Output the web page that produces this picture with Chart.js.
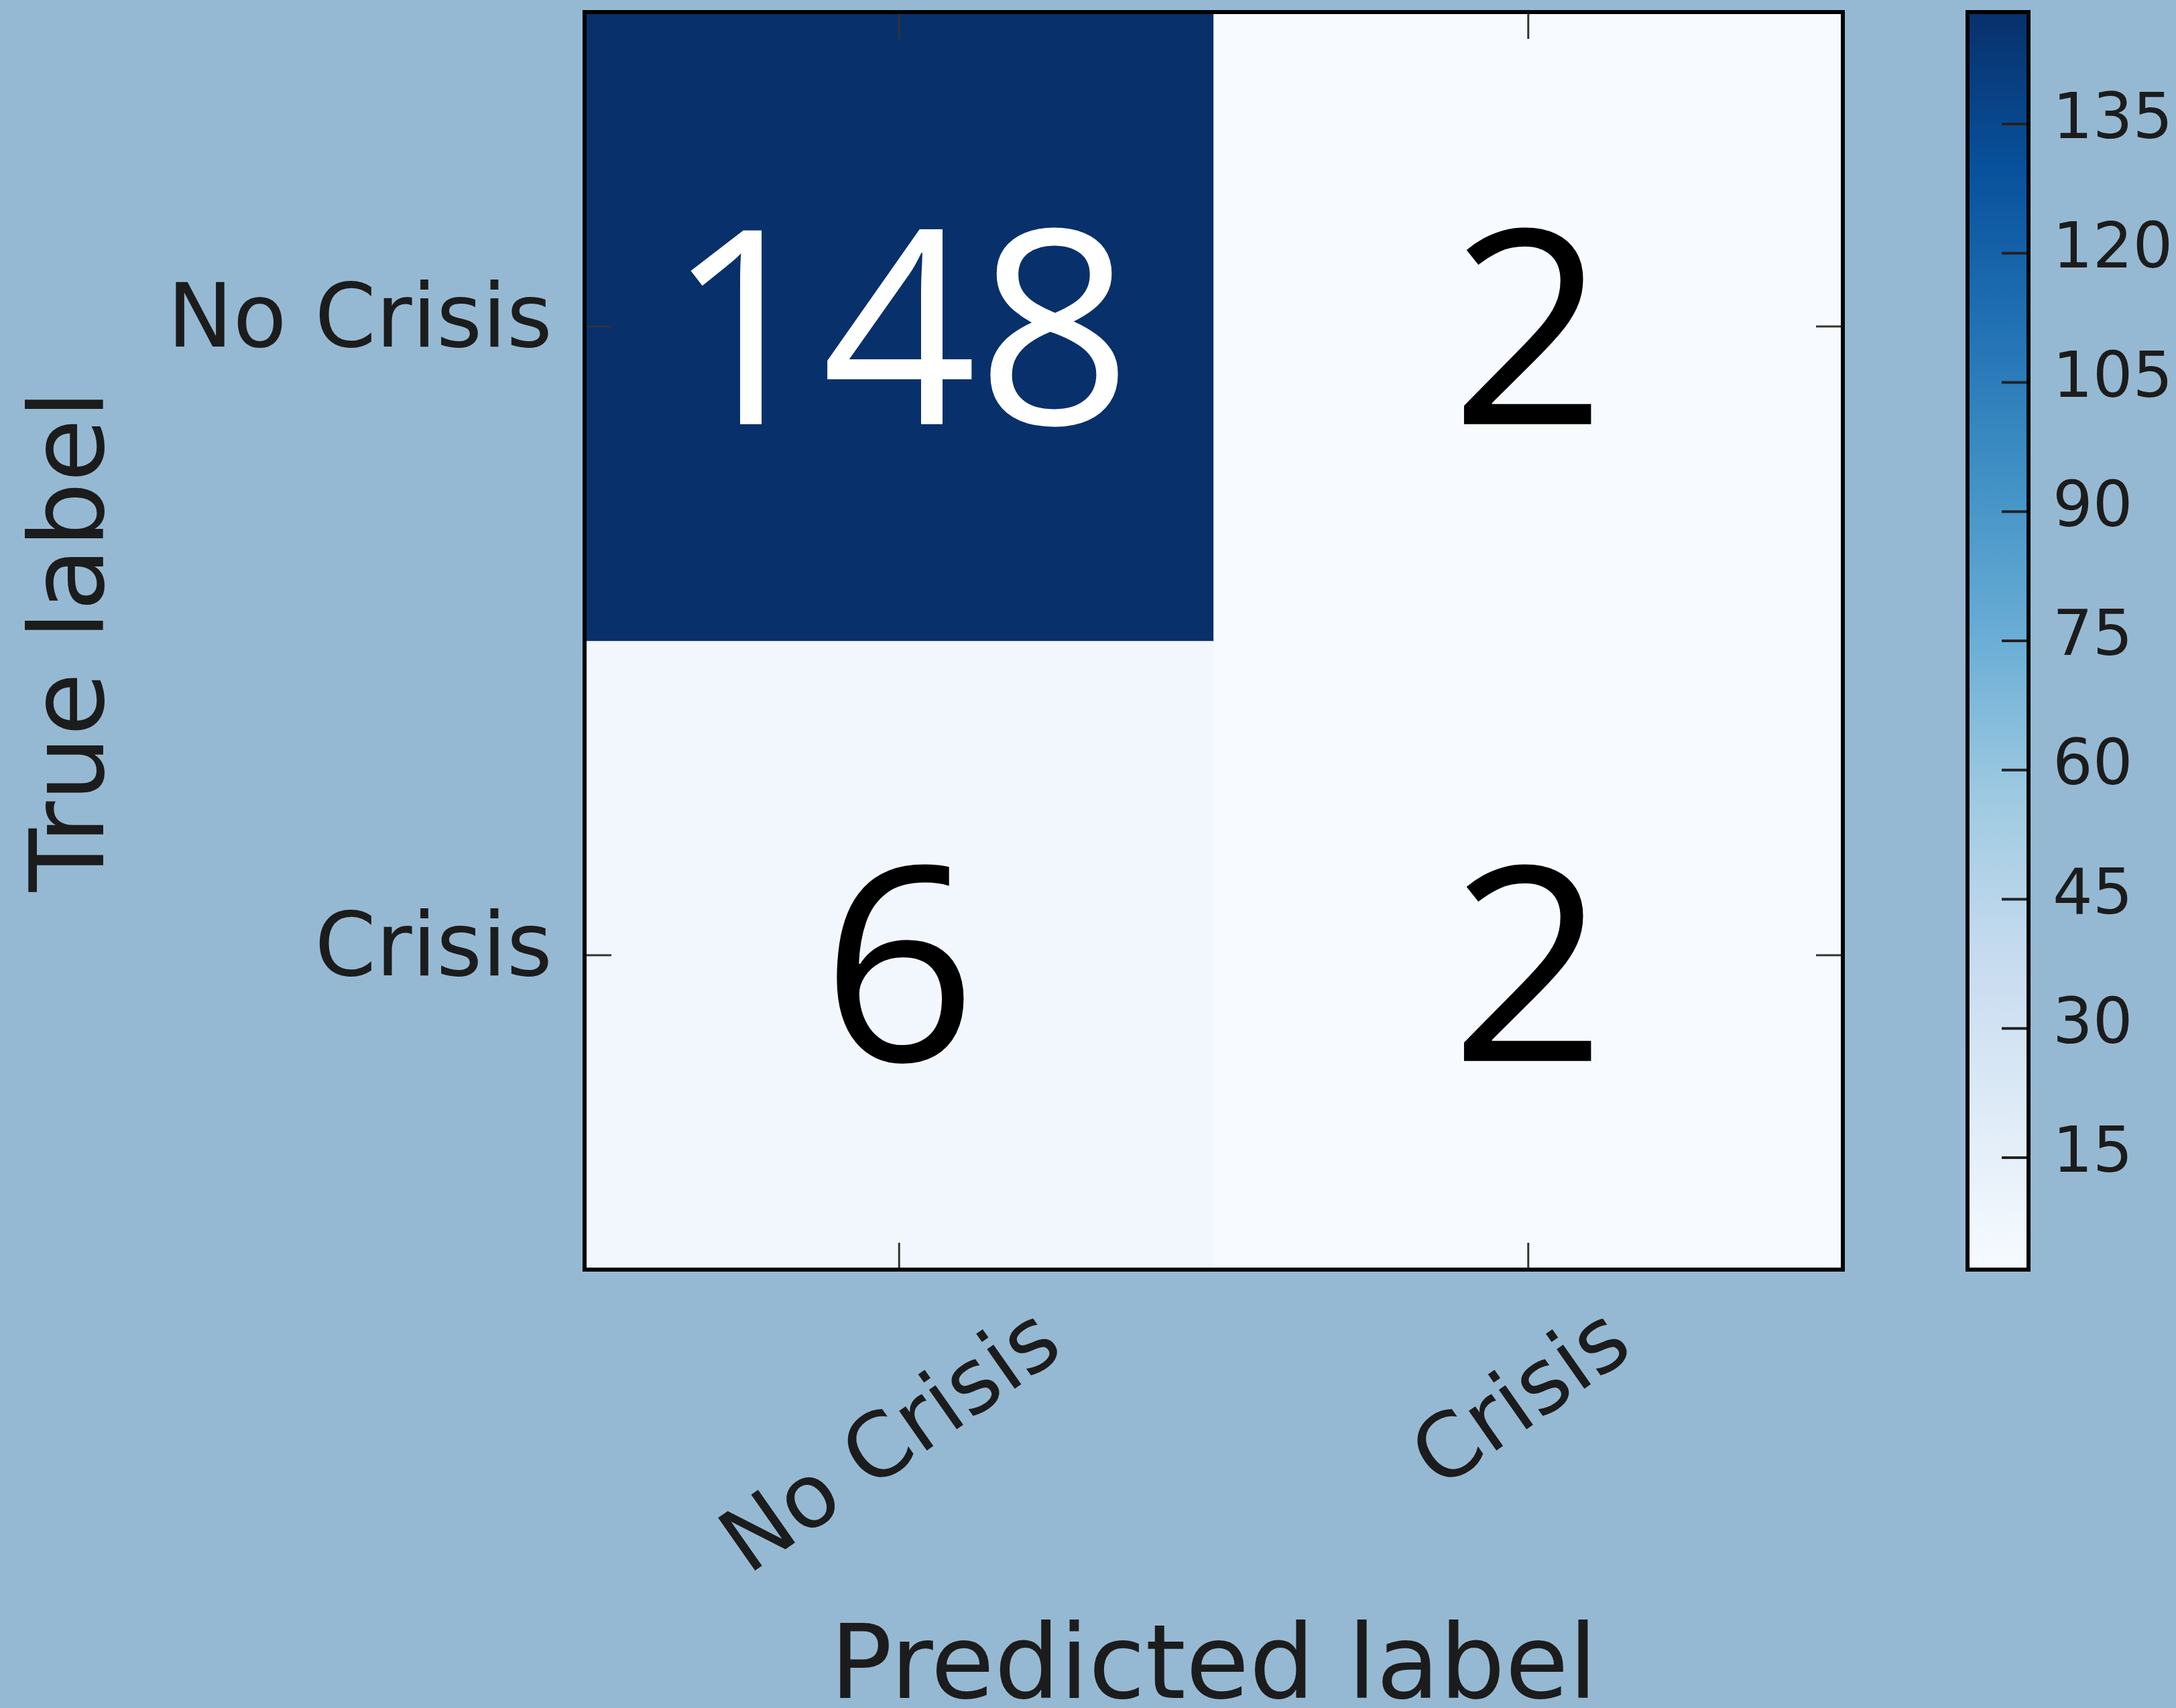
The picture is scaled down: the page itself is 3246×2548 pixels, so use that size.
<!DOCTYPE html>
<html>
<head>
<meta charset="utf-8">
<script src="https://cdn.jsdelivr.net/npm/chart.js@4.4.1/dist/chart.umd.min.js"></script>
<style>
html,body{margin:0;padding:0;background:#96b9d3;}
#wrap{position:relative;width:3246px;height:2548px;overflow:hidden;}
#wrap canvas{position:absolute;left:0;top:0;}
</style>
</head>
<body>
<div id="wrap">
<canvas id="cm" width="3246" height="2548" style="width:3246px;height:2548px"></canvas>
<canvas id="cb" width="3246" height="2548" style="width:3246px;height:2548px"></canvas>
</div>
<script>
// ---- data ----
const predictedLabels = ['No Crisis', 'Crisis'];
const trueLabels = ['No Crisis', 'Crisis'];
const rowNoCrisis = [148, 2];   // true = No Crisis
const rowCrisis = [6, 2];       // true = Crisis
const colorbarTicks = [15, 30, 45, 60, 75, 90, 105, 120, 135];
const colorMin = 2;
const colorMax = 148;
const blues = ['#f7fbff','#deebf7','#c6dbef','#9ecae1','#6baed6','#4292c6','#2171b5','#08519c','#08306b'];

const matrix = [rowNoCrisis, rowCrisis];
const TEXT = '#1c1c1c';
Chart.defaults.font.family = 'DejaVu Sans';

function hexToRgb(h){ return [parseInt(h.slice(1,3),16), parseInt(h.slice(3,5),16), parseInt(h.slice(5,7),16)]; }
function blueColor(v){
  let t = (v - colorMin) / (colorMax - colorMin);
  t = Math.max(0, Math.min(1, t));
  const f = t * (blues.length - 1);
  const i = Math.min(blues.length - 2, Math.floor(f));
  const u = f - i;
  const a = hexToRgb(blues[i]), b = hexToRgb(blues[i+1]);
  const c = a.map((x, k) => Math.round(x + (b[k] - x) * u));
  return 'rgb(' + c.join(',') + ')';
}
function line(ctx, x1, y1, x2, y2){ ctx.beginPath(); ctx.moveTo(x1, y1); ctx.lineTo(x2, y2); ctx.stroke(); }
function noPad(s){ s.paddingTop = 0; s.paddingBottom = 0; s.paddingLeft = 0; s.paddingRight = 0; }

// ---- confusion matrix ----
const cmPlugin = {
  id: 'cmDecor',
  afterDatasetsDraw(chart){
    const {ctx, scales: {x, y}, chartArea: a} = chart;
    ctx.save();
    // cell numbers
    const fs = 405;
    ctx.font = fs + 'px "Open Sans"';
    ctx.textAlign = 'center';
    ctx.textBaseline = 'alphabetic';
    const thresh = colorMax / 2;
    matrix.forEach((row, r) => row.forEach((v, c) => {
      ctx.fillStyle = v > thresh ? '#ffffff' : '#000000';
      ctx.fillText(String(v), x.getPixelForValue(c), y.getPixelForValue(r) + 0.36 * fs + r * 12);
    }));
    // inner ticks
    ctx.strokeStyle = '#333333';
    ctx.lineWidth = 3;
    const tl = 40;
    predictedLabels.forEach((_, c) => {
      const px = x.getPixelForValue(c);
      line(ctx, px, a.bottom, px, a.bottom - tl);
      line(ctx, px, a.top, px, a.top + tl);
    });
    trueLabels.forEach((_, r) => {
      const py = y.getPixelForValue(r);
      line(ctx, a.left, py, a.left + tl, py);
      line(ctx, a.right, py, a.right - tl, py);
    });
    // frame
    ctx.strokeStyle = '#000000';
    ctx.lineWidth = 6;
    ctx.strokeRect(a.left, a.top, a.right - a.left, a.bottom - a.top);
    // rotated x tick labels (centered, top aligned)
    ctx.font = '132px "DejaVu Sans"';
    ctx.fillStyle = TEXT;
    ctx.textAlign = 'left';
    ctx.textBaseline = 'alphabetic';
    const th = 35 * Math.PI / 180, cs = Math.cos(th), sn = Math.sin(th);
    predictedLabels.forEach((lab, i) => {
      const m = ctx.measureText(lab);
      const L = m.actualBoundingBoxLeft, R = m.actualBoundingBoxRight;
      const A = m.actualBoundingBoxAscent, D = m.actualBoundingBoxDescent;
      const pts = [[-L,-A],[R,-A],[R,D],[-L,D]].map(([px,py]) => [px*cs + py*sn, -px*sn + py*cs]);
      const xs = pts.map(p => p[0]), ys = pts.map(p => p[1]);
      const minX = Math.min(...xs), maxX = Math.max(...xs), minY = Math.min(...ys);
      const cx = x.getPixelForValue(i) - 14;
      const top = a.bottom + 46;
      ctx.save();
      ctx.translate(cx - (minX + maxX) / 2, top - minY);
      ctx.rotate(-th);
      ctx.fillText(lab, 0, 0);
      ctx.restore();
    });
    ctx.restore();
  }
};

new Chart(document.getElementById('cm'), {
  type: 'bar',
  data: {
    labels: predictedLabels,
    datasets: matrix.map((row, r) => ({
      label: trueLabels[r],
      data: row.map(() => [r - 0.5, r + 0.5]),
      backgroundColor: row.map(v => blueColor(v)),
      borderWidth: 0,
      grouped: false,
      barPercentage: 1,
      categoryPercentage: 1
    }))
  },
  options: {
    responsive: false,
    animation: false,
    events: [],
    layout: {padding: {top: 18, right: 497, bottom: 0, left: 0}},
    plugins: {legend: {display: false}, tooltip: {enabled: false}},
    scales: {
      x: {
        type: 'category',
        offset: true,
        grid: {display: false, drawTicks: false},
        border: {display: false},
        ticks: {display: false},
        title: {display: true, text: 'Predicted label', color: TEXT,
                font: {family: 'DejaVu Sans', size: 154, lineHeight: 0.6},
                padding: {top: 0, bottom: 9}},
        afterFit(s){ s.height = 654; noPad(s); }
      },
      y: {
        type: 'linear',
        min: -0.5,
        max: 1.5,
        reverse: true,
        grid: {display: false, drawTicks: false},
        border: {display: false},
        afterBuildTicks(s){ s.ticks = trueLabels.map((_, i) => ({value: i})); },
        ticks: {
          autoSkip: false,
          callback: (v) => trueLabels[v],
          color: TEXT,
          font: {family: 'DejaVu Sans', size: 131},
          padding: 48,
          labelOffset: -4
        },
        title: {display: true, text: 'True label', color: TEXT,
                font: {family: 'DejaVu Sans', size: 154, lineHeight: 1.2},
                padding: {top: 22, bottom: 0}},
        afterFit(s){ s.width = 872; noPad(s); }
      }
    }
  },
  plugins: [cmPlugin]
});

// ---- colorbar ----
const cbPlugin = {
  id: 'cbDecor',
  afterDatasetsDraw(chart){
    const {ctx, scales: {y}, chartArea: a} = chart;
    ctx.save();
    ctx.strokeStyle = '#222222';
    ctx.lineWidth = 4;
    colorbarTicks.forEach(v => {
      const py = y.getPixelForValue(v);
      line(ctx, a.right, py, a.right - 40, py);
    });
    ctx.strokeStyle = '#000000';
    ctx.lineWidth = 6;
    ctx.strokeRect(a.left, a.top, a.right - a.left, a.bottom - a.top);
    ctx.restore();
  }
};

new Chart(document.getElementById('cb'), {
  type: 'bar',
  data: {
    labels: ['colorbar'],
    datasets: [{
      data: [[colorMin, colorMax]],
      backgroundColor(ctx){
        const ch = ctx.chart, ys = ch.scales.y;
        if (!ys || !ch.chartArea) return blues[4];
        const g = ch.ctx.createLinearGradient(0, ys.getPixelForValue(colorMin), 0, ys.getPixelForValue(colorMax));
        blues.forEach((c, i) => g.addColorStop(i / (blues.length - 1), c));
        return g;
      },
      borderWidth: 0,
      barPercentage: 1,
      categoryPercentage: 1
    }]
  },
  options: {
    responsive: false,
    animation: false,
    events: [],
    layout: {padding: {top: 18, right: 0, bottom: 654, left: 2935}},
    plugins: {legend: {display: false}, tooltip: {enabled: false}},
    scales: {
      x: {display: false, afterFit(s){ noPad(s); }},
      y: {
        position: 'right',
        min: colorMin,
        max: colorMax,
        grid: {display: false, drawTicks: false},
        border: {display: false},
        afterBuildTicks(s){ s.ticks = colorbarTicks.map(v => ({value: v})); },
        ticks: {autoSkip: false, color: TEXT, font: {family: 'DejaVu Sans', size: 94}, padding: 36, labelOffset: -3},
        afterFit(s){ s.width = 220; noPad(s); }
      }
    }
  },
  plugins: [cbPlugin]
});
</script>
</body>
</html>
